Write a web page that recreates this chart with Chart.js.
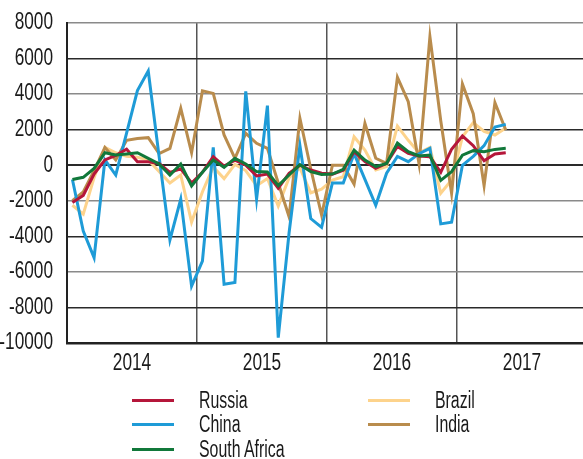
<!DOCTYPE html>
<html><head><meta charset="utf-8">
<script src="https://cdn.jsdelivr.net/npm/chart.js@4.4.0/dist/chart.umd.min.js"></script>
<style>
body{margin:0;background:#fff;width:583px;height:459px;overflow:hidden;position:relative;font-family:'Liberation Sans',Arial,sans-serif;}
#wrap{position:absolute;left:0;top:0;width:583px;height:380px;}
#legend{position:absolute;left:0;top:0;width:583px;height:459px;pointer-events:none}
.item{position:absolute;display:flex;align-items:center;height:24px;line-height:24px;font-size:23px;color:#1a1a1a;white-space:nowrap}
.sw{width:42px;height:3px;margin-right:25px;flex:none}
.tx{display:inline-block;transform:scaleX(0.69);transform-origin:left center}
</style></head><body>
<div id="wrap"><canvas id="c" width="583" height="380"></canvas></div>
<div id="legend"></div>
<script>
const months = ['2014-01','2014-02','2014-03','2014-04','2014-05','2014-06','2014-07','2014-08','2014-09','2014-10','2014-11','2014-12',
'2015-01','2015-02','2015-03','2015-04','2015-05','2015-06','2015-07','2015-08','2015-09','2015-10','2015-11','2015-12',
'2016-01','2016-02','2016-03','2016-04','2016-05','2016-06','2016-07','2016-08','2016-09','2016-10','2016-11','2016-12',
'2017-01','2017-02','2017-03','2017-04','2017-05'];
const yearLabels = ['2014','2015','2016','2017'];
const yTicks = [8000,6000,4000,2000,0,-2000,-4000,-6000,-8000,-10000];

const russia = [-2100,-1700,-500,300,550,900,200,200,100,-400,-200,-1000,
 -400,480,-50,290,0,-600,-500,-1300,-450,0,-270,-450,
 -500,-280,760,200,-180,100,1050,670,520,480,-400,900,
 1650,1100,250,630,700];
const china = [-800,-3700,-5200,300,-550,1800,4200,5300,500,-4200,-1900,-6800,
 -5400,1000,-6700,-6600,4150,-1900,3350,-9700,-3800,1100,-3000,-3500,
 -1000,-1000,650,-800,-2250,-450,500,200,650,950,-3300,-3200,
 0,500,1100,2150,2300];
const southAfrica = [-800,-680,-180,700,570,630,700,390,70,-550,70,-1170,
 -400,290,-120,390,70,-360,-380,-1150,-550,30,-360,-520,
 -500,-230,850,290,-80,100,1250,760,520,570,-850,-360,
 570,820,760,890,950];
const brazil = [-2250,-2750,-700,1000,700,500,450,300,-350,-1000,-550,-3200,
 -1500,-100,-750,50,-300,-1150,-750,-2300,-700,-150,-1550,-1350,
 -830,-650,1600,850,-270,-80,2200,1400,700,1000,-1580,-830,
 1600,2400,1900,1700,2100];
const india = [-2000,-1500,-300,1000,300,1400,1500,1550,650,950,3200,700,
 4190,4040,1700,390,1790,1230,950,-1000,-2900,2640,-200,-2800,
 0,0,-1060,2350,390,100,4940,3570,70,7230,2500,-1580,
 4570,2900,-1150,3520,1980];

const toPts = arr => arr.map((v,i)=>({x:i+0.5,y:v}));
const FONT = "'Liberation Sans',Arial,sans-serif";

const series = [
 {label:'Russia', data:russia, color:'#b5163a', order:1},
 {label:'China', data:china, color:'#1e9bd7', order:2},
 {label:'South Africa', data:southAfrica, color:'#11783a', order:0},
 {label:'Brazil', data:brazil, color:'#fdd38c', order:4},
 {label:'India', data:india, color:'#b98c4d', order:3}
];

// tick labels drawn in a condensed style (horizontally scaled text)
const condensedLabels = {
 id:'condensedLabels',
 afterDraw(ch){
  const ctx = ch.ctx, ys = ch.scales.y, xs = ch.scales.x;
  ctx.save();
  ctx.fillStyle = '#1a1a1a';
  ctx.font = '23px ' + FONT;
  ctx.textBaseline = 'middle';
  ctx.textAlign = 'right';
  yTicks.forEach(v=>{
   const py = ys.getPixelForValue(v);
   ctx.save(); ctx.translate(53, py); ctx.scale(0.75,1); ctx.fillText(String(v),0,0); ctx.restore();
  });
  ctx.textAlign = 'center';
  yearLabels.forEach((lab,i)=>{
   const px = xs.getPixelForValue(i*12+6);
   ctx.save(); ctx.translate(px, 364); ctx.scale(0.75,1); ctx.fillText(lab,0,0); ctx.restore();
  });
  ctx.restore();
 }
};

const chart = new Chart(document.getElementById('c'), {
 type:'line',
 data:{labels:months, datasets: series.map(s=>({label:s.label,data:toPts(s.data),borderColor:s.color,backgroundColor:s.color,borderWidth:3,pointRadius:0,tension:0,order:s.order,fill:false}))},
 options:{
  responsive:false, animation:false,
  layout:{padding:{top:23,right:0,left:0,bottom:0}},
  plugins:{legend:{display:false},tooltip:{enabled:false}},
  scales:{
   x:{type:'linear',min:0,max:47.63,
    afterBuildTicks: ax => { ax.ticks = [0,12,24,36].map(v=>({value:v})); },
    afterFit: ax => { ax.height = 37; },
    grid:{drawTicks:false,color:'#555', lineWidth:1.5},
    border:{color:'#222',width:2.5},
    ticks:{display:false}
   },
   y:{min:-10000,max:8000,
    afterBuildTicks: ax => { ax.ticks = yTicks.map(v=>({value:v})); },
    afterFit: ax => { ax.width = 67; },
    grid:{drawTicks:false,
      color:c=> ([8000,4000,-2000,-6000].includes(c.tick.value) ? '#8a8a8a' : '#2a2a2a'),
      lineWidth:c=> (c.tick.value===0 ? 2 : 1.5)},
    border:{color:'#222',width:2},
    ticks:{display:false}
   }
  }
 },
 plugins:[condensedLabels]
});

// HTML legend built from the chart datasets
const legendPos = {
 'Russia':[132,388],'China':[132,412],'South Africa':[132,437],
 'Brazil':[368,388],'India':[368,412]
};
const lg = document.getElementById('legend');
chart.data.datasets.forEach(ds=>{
 const p = legendPos[ds.label];
 const d = document.createElement('div');
 d.className='item'; d.style.left=p[0]+'px'; d.style.top=p[1]+'px';
 const sw = document.createElement('span'); sw.className='sw'; sw.style.background=ds.borderColor;
 const t = document.createElement('span'); t.className='tx'; t.textContent = ds.label;
 d.appendChild(sw); d.appendChild(t); lg.appendChild(d);
});
</script>
</body></html>
